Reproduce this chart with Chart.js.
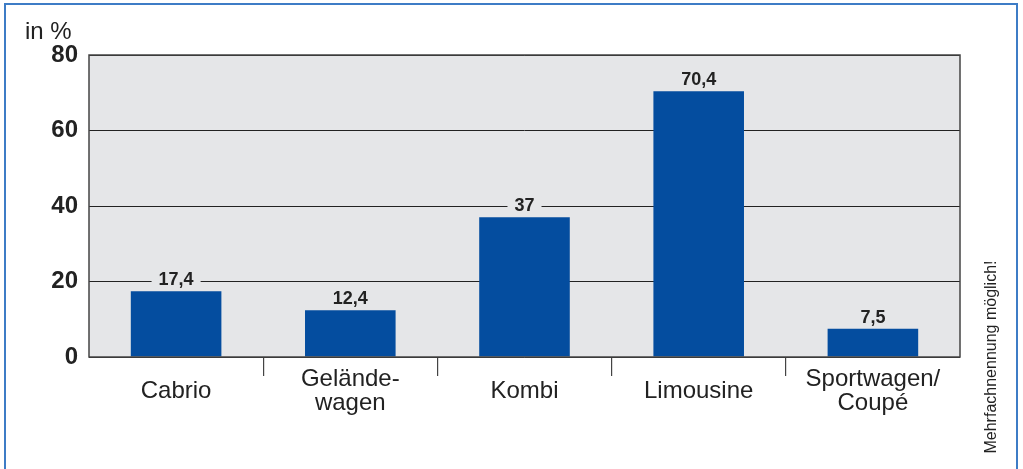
<!DOCTYPE html>
<html>
<head>
<meta charset="utf-8">
<script src="https://cdn.jsdelivr.net/npm/chart.js@4/dist/chart.umd.min.js"></script>
<style>
  body { margin: 0; background: #fff; }
  #wrap { position: relative; width: 1023px; height: 469px; overflow: hidden; }
  #frame { position: absolute; left: 4px; top: 3px; width: 1010px; height: 500px; border: 2px solid #3d7cc6; }
  canvas { position: absolute; left: 0; top: 0; }
</style>
</head>
<body>
<div id="wrap">
  <div id="frame"></div>
  <canvas id="myChart" width="1023" height="469"></canvas>
</div>
<script>
const kategorien = [['Cabrio'], ['Gelände-', 'wagen'], ['Kombi'], ['Limousine'], ['Sportwagen/', 'Coupé']]
const werte = [17.4, 12.4, 37, 70.4, 7.5]
const werteText = ['17,4', '12,4', '37', '70,4', '7,5']
const yTicks = [0, 20, 40, 60, 80]

const plotBg = '#e5e6e8'
const schrift = 'Liberation Sans, Arial, Helvetica, sans-serif'

// Hintergrund, Rahmen, Werte und Zusatztexte
const extras = {
  id: 'extras',
  beforeDraw(chart) {
    const { ctx, chartArea: a } = chart
    ctx.save()
    ctx.fillStyle = plotBg
    ctx.fillRect(a.left, a.top, a.right - a.left, a.bottom - a.top)
    ctx.restore()
  },
  afterDatasetsDraw(chart) {
    const { ctx, chartArea: a } = chart
    ctx.save()
    ctx.strokeStyle = '#444'
    ctx.lineWidth = 1.5
    ctx.strokeRect(a.left, a.top, a.right - a.left, a.bottom - a.top)

    const meta = chart.getDatasetMeta(0)
    ctx.font = 'bold 18px ' + schrift
    ctx.textAlign = 'center'
    ctx.textBaseline = 'middle'
    meta.data.forEach((bar, i) => {
      const txt = werteText[i]
      const w = ctx.measureText(txt).width + 14
      const y = bar.y - 11
      ctx.fillStyle = plotBg
      ctx.fillRect(bar.x - w / 2, y - 10, w, 20)
      ctx.fillStyle = '#222'
      ctx.fillText(txt, bar.x, y)
    })

    ctx.font = '24px ' + schrift
    ctx.textAlign = 'left'
    ctx.fillStyle = '#222'
    ctx.fillText('in %', 25, 32)

    ctx.translate(992, 357)
    ctx.rotate(-Math.PI / 2)
    ctx.font = '16px ' + schrift
    ctx.textAlign = 'center'
    ctx.fillText('Mehrfachnennung möglich!', 0, 0)
    ctx.restore()
  }
}

const config = {
  type: 'bar',
  data: {
    labels: kategorien,
    datasets: [{
      data: werte,
      backgroundColor: '#044d9f',
      barPercentage: 0.52,
      categoryPercentage: 1
    }]
  },
  options: {
    responsive: false,
    animation: false,
    layout: { padding: { top: 55, right: 63, left: 0, bottom: 0 } },
    plugins: { legend: { display: false }, tooltip: { enabled: false } },
    scales: {
      x: {
        offset: true,
        border: { display: false },
        grid: {
          offset: true,
          drawOnChartArea: false,
          tickLength: 19,
          lineWidth: 1.2,
          color: c => (c.type === 'tick' && c.index > 0) ? '#444' : 'rgba(0,0,0,0)'
        },
        ticks: {
          font: { family: schrift, size: 24, lineHeight: 1 },
          color: '#222',
          crossAlign: 'center',
          padding: 3,
          maxRotation: 0
        },
        afterFit(s) { s.height = 112 }
      },
      y: {
        min: 0,
        max: 80,
        border: { display: false },
        grid: { color: '#222', lineWidth: 1, drawTicks: false },
        afterBuildTicks(s) { s.ticks = yTicks.map(v => ({ value: v })) },
        ticks: {
          font: { family: schrift, size: 24, weight: 'bold' },
          color: '#222',
          padding: 11
        },
        afterFit(s) { s.width = 89 }
      }
    }
  },
  plugins: [extras]
}

new Chart(document.getElementById('myChart'), config)
</script>
</body>
</html>
